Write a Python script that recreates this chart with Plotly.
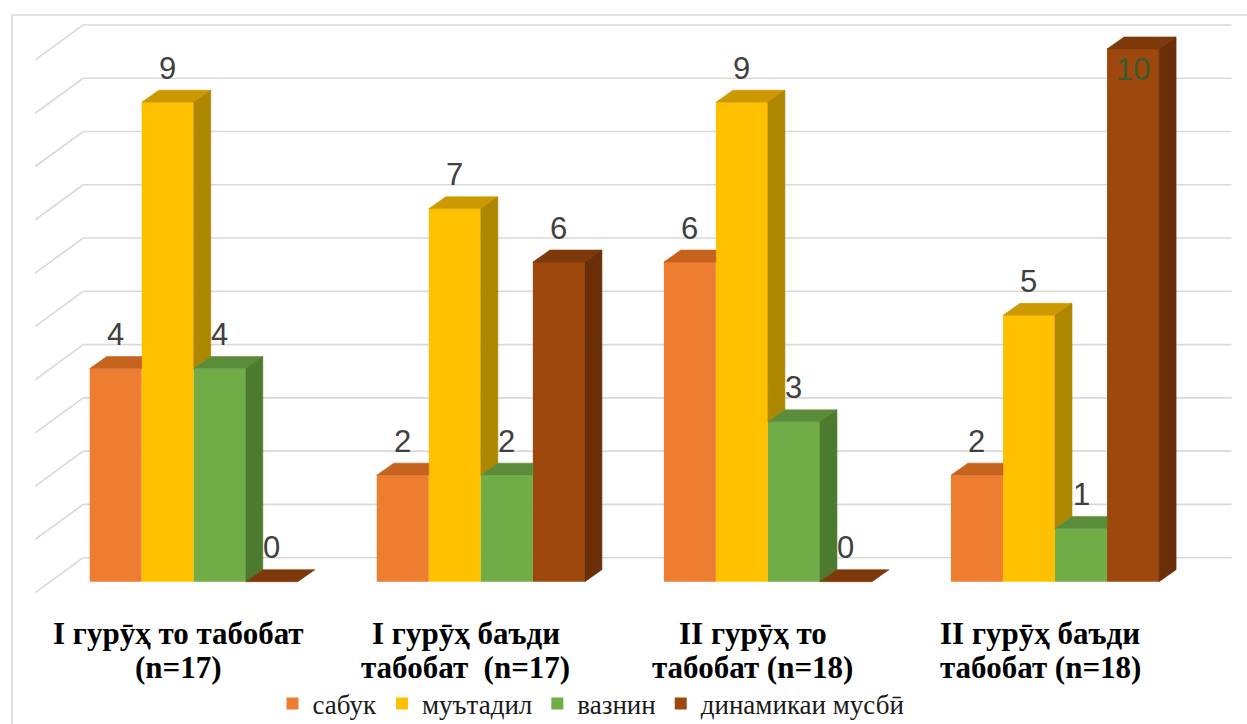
import plotly.graph_objects as go

# ---- data -------------------------------------------------------------
categories = [
    "I гурӯҳ то табобат<br>(n=17)",
    "I гурӯҳ баъди<br>табобат  (n=17)",
    "II гурӯҳ то<br>табобат (n=18)",
    "II гурӯҳ баъди<br>табобат (n=18)",
]
series_names = ["сабук", "муътадил", "вазнин", "динамикаи мусбӣ"]
sabuk = [4, 2, 6, 2]
mutadil = [9, 7, 9, 5]
vaznin = [4, 2, 3, 1]
dinamika = [0, 6, 0, 10]
grid_values = list(range(0, 11))

series_values = [sabuk, mutadil, vaznin, dinamika]

# ---- styling ----------------------------------------------------------
front_colors = ["#ED7D31", "#FFC000", "#70AD47", "#9E480E"]
top_colors = ["#C5631F", "#CC9A00", "#5B8C39", "#7E390B"]
side_colors = ["#AF561A", "#AE8700", "#4C7A2E", "#6A2F08"]

W, H = 1247, 724
M_L, M_R, M_T, M_B = 33, 14, 9, 129
X_RANGE = [-0.56, 3.62]
Y_RANGE = [-0.25, 10.75]
plot_w = W - M_L - M_R
plot_h = H - M_T - M_B
px_x = plot_w / (X_RANGE[1] - X_RANGE[0])
px_y = plot_h / (Y_RANGE[1] - Y_RANGE[0])

# oblique depth offsets (pixels -> data units)
bar_dx, bar_dy = 17 / px_x, 12 / px_y          # depth of each bar
front_dx, front_dy = -15 / px_x, -11 / px_y    # front edge of the floor/left wall
back_dx, back_dy = 33 / px_x, 24 / px_y        # back wall

BAR_GAP = 0.275
n_series = len(series_values)
bw = (1 - BAR_GAP) / n_series
x_idx = list(range(len(categories)))

fig = go.Figure()

# front faces of the bars
for j, vals in enumerate(series_values):
    off = -0.5 * (1 - BAR_GAP) + j * bw
    fig.add_trace(go.Bar(
        x=x_idx, y=vals, width=bw, offset=off,
        name=series_names[j],
        marker=dict(color=front_colors[j], line=dict(width=0)),
        hoverinfo="y+name",
    ))


def poly(xs, ys, color):
    fig.add_trace(go.Scatter(
        x=xs + [xs[0]], y=ys + [ys[0]], mode="lines", fill="toself",
        fillcolor=color, line=dict(color=color, width=0.6),
        showlegend=False, hoverinfo="skip",
    ))


# top and side faces, left to right so nearer faces overlap correctly
for i in x_idx:
    for j, vals in enumerate(series_values):
        v = vals[i]
        xl = i - 0.5 * (1 - BAR_GAP) + j * bw
        xr = xl + bw
        v_next = series_values[j + 1][i] if j + 1 < n_series else None

        # top face (its back-right corner is hidden behind a taller neighbour)
        if v_next is not None and v_next > v:
            poly([xl, xr, xr, xl + bar_dx], [v, v, v + bar_dy, v + bar_dy], top_colors[j])
        else:
            poly([xl, xr, xr + bar_dx, xl + bar_dx], [v, v, v + bar_dy, v + bar_dy], top_colors[j])

        # right side face, only the part above the neighbour is visible
        base = 0 if v_next is None else v_next
        if v > base:
            poly([xr, xr, xr + bar_dx, xr + bar_dx],
                 [base, v, v + bar_dy, base + bar_dy], side_colors[j])

# gridlines on the back wall and the left wall
shapes = []
for g in grid_values:
    shapes.append(dict(type="line", xref="x", yref="y", layer="below",
                       x0=-0.5 + back_dx, x1=3.5 + back_dx,
                       y0=g + back_dy, y1=g + back_dy,
                       line=dict(color="#D9D9D9", width=1.6)))
    shapes.append(dict(type="line", xref="x", yref="y", layer="below",
                       x0=-0.5 + front_dx, x1=-0.5 + back_dx,
                       y0=g + front_dy, y1=g + back_dy,
                       line=dict(color="#D9D9D9", width=1.6)))

# chart area border
shapes.append(dict(type="rect", xref="paper", yref="paper", layer="below",
                   x0=(12 - M_L) / plot_w, x1=1.2,
                   y0=-0.5, y1=(H - M_B - 15) / plot_h,
                   line=dict(color="#D9D9D9", width=1.5), fillcolor="rgba(0,0,0,0)"))

annotations = []

# value labels
for j, vals in enumerate(series_values):
    for i in x_idx:
        v = vals[i]
        xc = i - 0.5 * (1 - BAR_GAP) + j * bw + bw / 2
        outside_top = v + (31 + 14) / px_y > Y_RANGE[1]
        annotations.append(dict(
            x=xc, y=v, xref="x", yref="y", text=str(v), showarrow=False,
            yshift=-21 if outside_top else 34, yanchor="middle",
            font=dict(family="Liberation Sans, Arial, sans-serif", size=31,
                      color="#3D5A2C" if outside_top else "#404040"),
        ))

# category labels under the front edge of the floor, one line per annotation
label_font = dict(family="Liberation Serif, Times New Roman, serif", size=31,
                  color="black", weight="bold")
line_px = [633, 667]
for i, cat in zip(x_idx, categories):
    for k, line in enumerate(cat.split("<br>")):
        annotations.append(dict(
            x=i + front_dx, xref="x",
            y=(H - M_B - line_px[k]) / plot_h, yref="paper",
            text=line, showarrow=False, yanchor="middle", xanchor="center",
            font=label_font,
        ))

fig.update_layout(
    width=W, height=H,
    margin=dict(l=M_L, r=M_R, t=M_T, b=M_B, autoexpand=False),
    paper_bgcolor="white", plot_bgcolor="white",
    barmode="overlay",
    shapes=shapes,
    annotations=annotations,
    showlegend=True,
    legend=dict(
        orientation="h", x=0.465, xanchor="center",
        yref="container", y=(H - 704) / H, yanchor="middle",
        font=dict(family="Liberation Serif, Times New Roman, serif", size=27, color="#1A1A1A"),
        bgcolor="rgba(0,0,0,0)",
    ),
    xaxis=dict(
        range=X_RANGE, showgrid=False, zeroline=False, showline=False,
        showticklabels=False, ticks="", automargin=False,
    ),
    yaxis=dict(
        range=Y_RANGE, showgrid=False, zeroline=False, showline=False,
        showticklabels=False, ticks="", automargin=False,
    ),
)

fig.write_html("out.html")
